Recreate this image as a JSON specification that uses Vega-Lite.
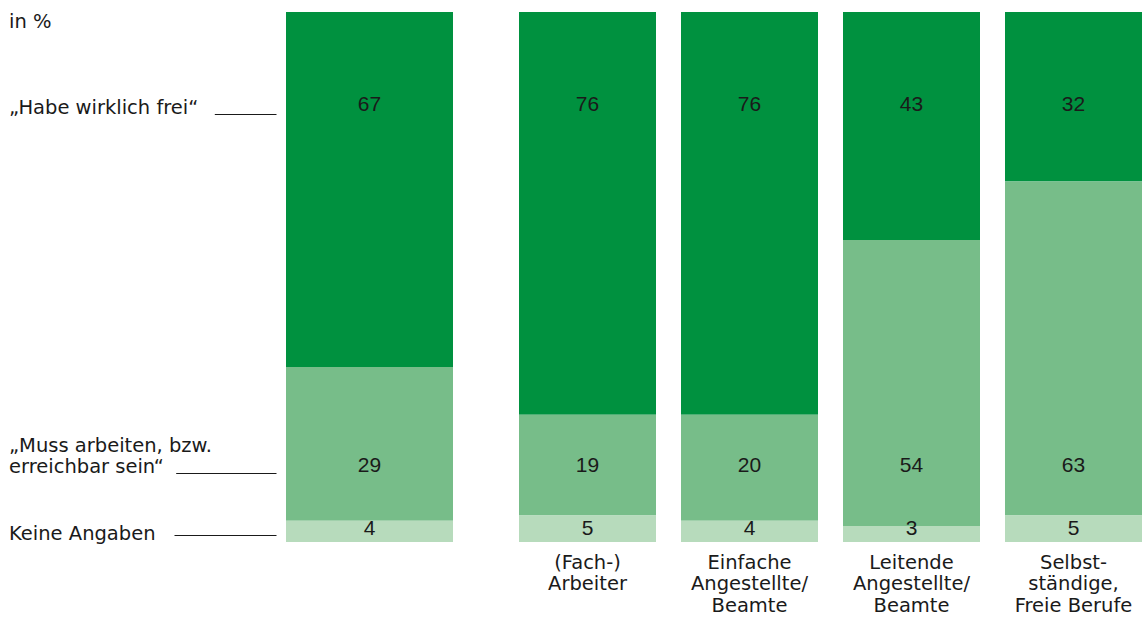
{
  "$schema": "https://vega.github.io/schema/vega-lite/v6.json",
  "padding": {"left": 8, "top": 11, "right": 0, "bottom": 0},
  "background": "white",
  "config": {"view": {"stroke": null}},
  "datasets": {
    "d": [
      {"group": "Gesamt", "cat": "Habe", "k": 3, "v": 67},
      {"group": "Gesamt", "cat": "Muss", "k": 2, "v": 29},
      {"group": "Gesamt", "cat": "Keine", "k": 1, "v": 4},
      {"group": "(Fach-)|Arbeiter", "cat": "Habe", "k": 3, "v": 76},
      {"group": "(Fach-)|Arbeiter", "cat": "Muss", "k": 2, "v": 19},
      {"group": "(Fach-)|Arbeiter", "cat": "Keine", "k": 1, "v": 5},
      {"group": "Einfache|Angestellte/|Beamte", "cat": "Habe", "k": 3, "v": 76},
      {"group": "Einfache|Angestellte/|Beamte", "cat": "Muss", "k": 2, "v": 20},
      {"group": "Einfache|Angestellte/|Beamte", "cat": "Keine", "k": 1, "v": 4},
      {"group": "Leitende|Angestellte/|Beamte", "cat": "Habe", "k": 3, "v": 43},
      {"group": "Leitende|Angestellte/|Beamte", "cat": "Muss", "k": 2, "v": 54},
      {"group": "Leitende|Angestellte/|Beamte", "cat": "Keine", "k": 1, "v": 3},
      {"group": "Selbst-|ständige,|Freie Berufe", "cat": "Habe", "k": 3, "v": 32},
      {"group": "Selbst-|ständige,|Freie Berufe", "cat": "Muss", "k": 2, "v": 63},
      {"group": "Selbst-|ständige,|Freie Berufe", "cat": "Keine", "k": 1, "v": 5}
    ]
  },
  "spacing": 66,
  "hconcat": [
    {
      "width": 167,
      "height": 530,
      "data": {"name": "d"},
      "transform": [{"filter": "datum.group == 'Gesamt'"}],
      "layer": [
        {
          "mark": {"type": "bar", "strokeWidth": 0},
          "encoding": {
            "x": {"field": "group", "type": "nominal", "axis": null, "scale": {"paddingInner": 0, "paddingOuter": 0}},
            "y": {
              "field": "v", "type": "quantitative", "stack": "zero",
              "scale": {"domain": [0, 100], "nice": false},
              "axis": {
                "title": null,
                "values": [100, 80.8, 13.08, 1.26],
                "labelExpr": "datum.value == 100 ? 'in %' : datum.value > 50 ? '„Habe wirklich frei“' : datum.value > 5 ? ['„Muss arbeiten, bzw.', 'erreichbar sein“'] : 'Keine Angaben'",
                "domain": false,
                "grid": false,
                "offset": 10,
                "tickColor": "#1a1a1a",
                "tickWidth": 1,
                "tickSize": {"condition": [{"test": "datum.value == 100", "value": 0}, {"test": "datum.value > 50", "value": 61.7}, {"test": "datum.value > 5", "value": 100.3}], "value": 102},
                "labelPadding": {"condition": [{"test": "datum.value == 100", "value": 267.5}, {"test": "datum.value > 50", "value": 205.8}, {"test": "datum.value > 5", "value": 167.2}], "value": 165.5},
                "labelOffset": {"condition": [{"test": "datum.value == 100", "value": 15}, {"test": "datum.value > 5 && datum.value < 50", "value": -21.5}, {"test": "datum.value < 5", "value": 3.7}], "value": 0},
                "labelAlign": "left",
                "labelBaseline": "alphabetic",
                "labelFont": "DejaVu Sans",
                "labelFontSize": 19.5,
                "labelLineHeight": 21.5,
                "labelColor": "#1a1a1a",
                "labelFlush": false,
                "labelOverlap": false,
                "labelLimit": 0
              }
            },
            "color": {"field": "cat", "type": "nominal", "scale": {"domain": ["Habe", "Muss", "Keine"], "range": ["#00913F", "#77BD89", "#B7DBBC"]}, "legend": null},
            "order": {"field": "k", "type": "quantitative"}
          }
        },
        {
          "transform": [{"filter": "datum.cat == 'Habe'"}],
          "mark": {"type": "text", "font": "Liberation Sans", "fontSize": 21, "color": "#1a1a1a", "baseline": "middle"},
          "encoding": {"x": {"field": "group", "type": "nominal"}, "y": {"datum": 82.45}, "text": {"field": "v", "type": "quantitative"}}
        },
        {
          "transform": [{"filter": "datum.cat == 'Muss'"}],
          "mark": {"type": "text", "font": "Liberation Sans", "fontSize": 21, "color": "#1a1a1a", "baseline": "middle"},
          "encoding": {"x": {"field": "group", "type": "nominal"}, "y": {"datum": 14.43}, "text": {"field": "v", "type": "quantitative"}}
        },
        {
          "transform": [{"filter": "datum.cat == 'Keine'"}],
          "mark": {"type": "text", "font": "Liberation Sans", "fontSize": 21, "color": "#1a1a1a", "baseline": "middle"},
          "encoding": {"x": {"field": "group", "type": "nominal"}, "y": {"datum": 2.4}, "text": {"field": "v", "type": "quantitative"}}
        }
      ]
    },
    {
      "width": 623,
      "height": 530,
      "data": {"name": "d"},
      "transform": [{"filter": "datum.group != 'Gesamt'"}],
      "layer": [
        {
          "mark": {"type": "bar", "strokeWidth": 0},
          "encoding": {
            "x": {
              "field": "group", "type": "nominal", "sort": null,
              "scale": {"paddingInner": 0.1543, "paddingOuter": 0},
              "axis": {
                "title": null, "domain": false, "ticks": false, "labelAngle": 0,
                "labelExpr": "split(datum.label, '|')",
                "labelBaseline": "top", "labelPadding": 11,
                "labelFont": "DejaVu Sans", "labelFontSize": 19.5, "labelLineHeight": 21.5,
                "labelColor": "#1a1a1a", "labelLimit": 0
              }
            },
            "y": {"field": "v", "type": "quantitative", "stack": "zero", "scale": {"domain": [0, 100], "nice": false}, "axis": null},
            "color": {"field": "cat", "type": "nominal", "scale": {"domain": ["Habe", "Muss", "Keine"], "range": ["#00913F", "#77BD89", "#B7DBBC"]}, "legend": null},
            "order": {"field": "k", "type": "quantitative"}
          }
        },
        {
          "transform": [{"filter": "datum.cat == 'Habe'"}],
          "mark": {"type": "text", "font": "Liberation Sans", "fontSize": 21, "color": "#1a1a1a", "baseline": "middle"},
          "encoding": {"x": {"field": "group", "type": "nominal", "sort": null}, "y": {"datum": 82.45}, "text": {"field": "v", "type": "quantitative"}}
        },
        {
          "transform": [{"filter": "datum.cat == 'Muss'"}],
          "mark": {"type": "text", "font": "Liberation Sans", "fontSize": 21, "color": "#1a1a1a", "baseline": "middle"},
          "encoding": {"x": {"field": "group", "type": "nominal", "sort": null}, "y": {"datum": 14.43}, "text": {"field": "v", "type": "quantitative"}}
        },
        {
          "transform": [{"filter": "datum.cat == 'Keine'"}],
          "mark": {"type": "text", "font": "Liberation Sans", "fontSize": 21, "color": "#1a1a1a", "baseline": "middle"},
          "encoding": {"x": {"field": "group", "type": "nominal", "sort": null}, "y": {"datum": 2.4}, "text": {"field": "v", "type": "quantitative"}}
        }
      ]
    }
  ]
}
